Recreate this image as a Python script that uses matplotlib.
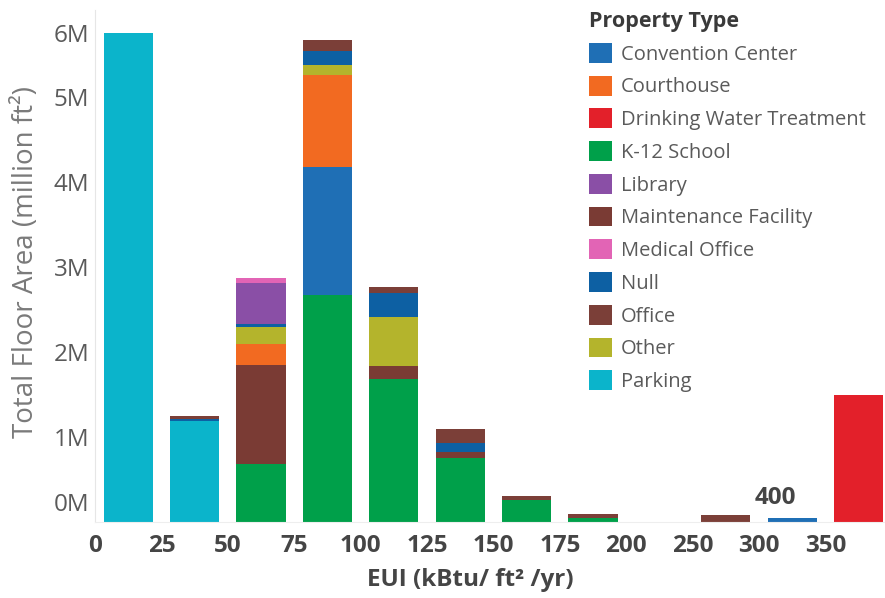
import matplotlib
matplotlib.use("Agg")
import matplotlib.pyplot as plt
import matplotlib.transforms as mtransforms
from matplotlib.patches import Patch
import numpy as np

plt.rcParams["font.family"] = ["Open Sans", "DejaVu Sans"]

# EUI bins (kBtu/ft2/yr); the 200-250 bin is empty
bins = ["0-25", "25-50", "50-75", "75-100", "100-125", "125-150",
        "150-175", "175-200", "200-250", "250-300", "300-350", "350-400"]
edge_labels = ["0", "25", "50", "75", "100", "125", "150", "175", "200",
               "250", "300", "350"]

# floor area in million ft2, per property type and bin
parking     = [5.75, 1.19, 0, 0, 0, 0, 0, 0, 0, 0, 0, 0]
drinking    = [0, 0, 0, 0, 0, 0, 0, 0, 0, 0, 0, 1.49]
k12         = [0, 0, 0.68, 2.67, 1.68, 0.75, 0.26, 0.05, 0, 0, 0, 0]
maintenance = [0, 0, 1.165, 0, 0.15, 0.07, 0, 0, 0, 0, 0, 0]
convention  = [0, 0, 0, 1.51, 0, 0, 0, 0, 0, 0, 0.05, 0]
courthouse  = [0, 0, 0.25, 1.08, 0, 0, 0, 0, 0, 0, 0, 0]
other       = [0, 0, 0.2, 0.12, 0.58, 0, 0, 0, 0, 0, 0, 0]
null        = [0, 0.02, 0.035, 0.165, 0.28, 0.11, 0, 0, 0, 0, 0, 0]
library     = [0, 0, 0.48, 0, 0, 0, 0, 0, 0, 0, 0, 0]
medical     = [0, 0, 0.06, 0, 0, 0, 0, 0, 0, 0, 0, 0]
office      = [0, 0.04, 0, 0.13, 0.07, 0.165, 0.05, 0.04, 0, 0.08, 0, 0]

# bottom-to-top stacking order
stack = [
    ("Parking", parking, "#0bb4cb"),
    ("Drinking Water Treatment", drinking, "#e3202a"),
    ("K-12 School", k12, "#00a04a"),
    ("Maintenance Facility", maintenance, "#7a3b34"),
    ("Convention Center", convention, "#1f6fb5"),
    ("Courthouse", courthouse, "#f26a21"),
    ("Other", other, "#b4b42c"),
    ("Null", null, "#0d60a3"),
    ("Library", library, "#8a4fa6"),
    ("Medical Office", medical, "#e264b5"),
    ("Office", office, "#7b3f38"),
]
legend_order = ["Convention Center", "Courthouse", "Drinking Water Treatment",
                "K-12 School", "Library", "Maintenance Facility",
                "Medical Office", "Null", "Office", "Other", "Parking"]

fig = plt.figure(figsize=(8.85, 5.98), dpi=100)
ax = fig.add_axes([95 / 885, 1 - 522 / 598, 790 / 885, 512 / 598])

x = np.arange(len(bins)) + 0.5
bottom = np.zeros(len(bins))
colors = {}
for name, vals, col in stack:
    vals = np.array(vals, dtype=float)
    ax.bar(x, vals, width=0.74, bottom=bottom, color=col, linewidth=0)
    bottom += vals
    colors[name] = col

ax.set_xlim(0, 790 / 66.4)
ax.set_ylim(0, 512 / 85)

ax.set_xticks(np.arange(len(edge_labels)))
ax.set_xticklabels(edge_labels, fontsize=17.5, fontweight="bold", color="#454545")
ax.set_yticks(range(7))
ax.set_yticklabels([f"{i}M" for i in range(7)], fontsize=17.5, color="#5a5a5a")
ax.tick_params(axis="both", length=0)
ax.tick_params(axis="x", pad=9)
ax.tick_params(axis="y", pad=4)

# first and last y labels sit inside the plot area
ylabs = ax.get_yticklabels()
ylabs[0].set_transform(ylabs[0].get_transform() +
                       mtransforms.ScaledTranslation(0, 20 / 100, fig.dpi_scale_trans))
ylabs[-1].set_transform(ylabs[-1].get_transform() +
                        mtransforms.ScaledTranslation(0, -21 / 100, fig.dpi_scale_trans))

for s in ["top", "right"]:
    ax.spines[s].set_visible(False)
ax.spines["left"].set_color("#e6e6e6")
ax.spines["bottom"].set_color("#eeeeee")

ax.text(10.25, 0.28, "400", fontsize=17.5, fontweight="bold", color="#454545",
        ha="center", va="center")

fig.text(470 / 885, 1 - 580 / 598, "EUI (kBtu/ ft² /yr)", fontsize=17.5,
         fontweight="bold", color="#454545", ha="center", va="center")
fig.text(26 / 885, 1 - 262 / 598, "Total Floor Area (million ft²)", fontsize=20,
         color="#7a7a7a", rotation=90, ha="center", va="center")

handles = [Patch(facecolor=colors[n], edgecolor="none", label=n) for n in legend_order]
leg = ax.legend(handles=handles, title="Property Type", loc="upper left",
                bbox_to_anchor=(589 / 885, 1 - 11 / 598), bbox_transform=fig.transFigure,
                frameon=False, fontsize=14.5, title_fontsize=15.5,
                handlelength=1.14, handleheight=1.14, handletextpad=0.45,
                labelspacing=0.545, borderpad=0, borderaxespad=0, alignment="left")
leg.get_title().set_fontweight("bold")
leg.get_title().set_color("#3a3a3a")
for t in leg.get_texts():
    t.set_color("#5a5a5a")

fig.savefig("out.png", dpi=100)
